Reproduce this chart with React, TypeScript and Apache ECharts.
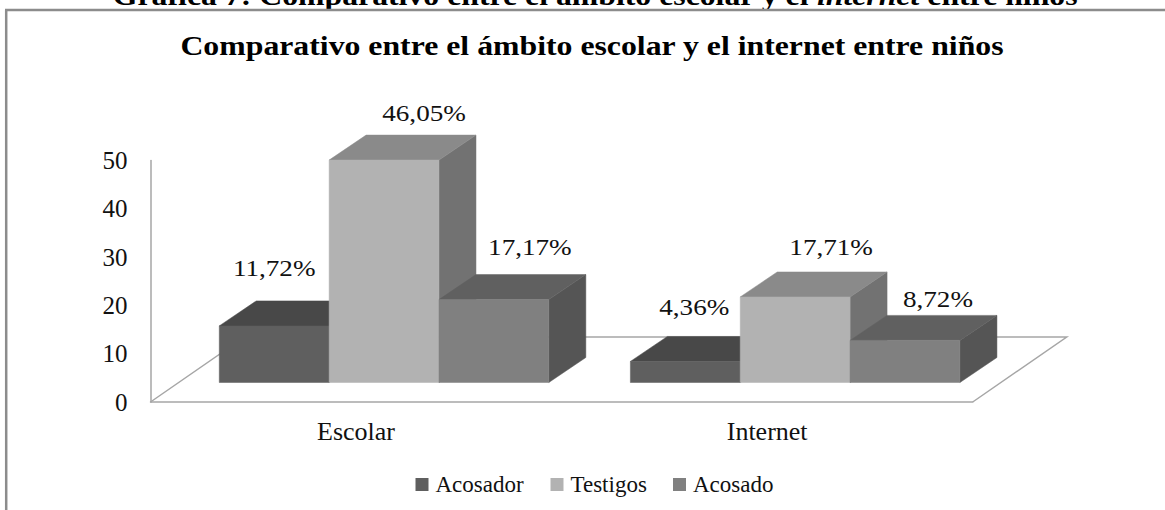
import React, { useEffect, useRef } from "react";
import * as echarts from "echarts";

const categories = ["Escolar", "Internet"];
const seriesNames = ["Acosador", "Testigos", "Acosado"];
const acosador = [11.72, 4.36];
const testigos = [46.05, 17.71];
const acosado = [17.17, 8.72];
const yTicks = { min: 0, max: 50, interval: 10 };
const chartTitle = "Comparativo entre el ámbito escolar y el internet entre niños";
const headingBefore = "Gráfica 7: Comparativo entre el ámbito escolar y el ";
const headingItalic = "internet";
const headingAfter = " entre niños";

const serif = "'Liberation Serif', 'Times New Roman', serif";
const frontColors = ["#5f5f5f", "#b2b2b2", "#808080"];
const topColors = ["#484848", "#8a8a8a", "#606060"];
const sideColors = ["#404040", "#727272", "#555555"];
// label offsets relative to the front-top centre of each bar [series][category]
const labelOffsets = [
  [[0, -58], [9, -54]],
  [[40, -47], [36, -50]],
  [[36, -52], [33, -41]],
];
const FLOOR_DX = 94;
const FLOOR_DY = 65;
const BAR_SHIFT_X = 28;
const BAR_SHIFT_Y = 19.5;
const DEPTH_X = 37;
const DEPTH_Y = 25;

function barRenderer(seriesIdx: number) {
  return (params: any, api: any) => {
    const cat = api.value(0);
    const val = api.value(1);
    const band = api.size([1, 0])[0];
    const w = band * 0.2672;
    const base = api.coord([cat, 0]);
    const top = api.coord([cat, val]);
    const x0 = base[0] + BAR_SHIFT_X + (seriesIdx - 1.5) * w;
    const x1 = x0 + w;
    const yb = base[1] - BAR_SHIFT_Y;
    const yt = top[1] - BAR_SHIFT_Y;
    const off = labelOffsets[seriesIdx][cat];
    const poly = (points: number[][], fill: string) => ({
      type: "polygon",
      shape: { points },
      style: { fill, stroke: fill, lineWidth: 0.5 },
    });
    return {
      type: "group",
      children: [
        poly([[x1, yb], [x1 + DEPTH_X, yb - DEPTH_Y], [x1 + DEPTH_X, yt - DEPTH_Y], [x1, yt]], sideColors[seriesIdx]),
        poly([[x0, yt], [x1, yt], [x1 + DEPTH_X, yt - DEPTH_Y], [x0 + DEPTH_X, yt - DEPTH_Y]], topColors[seriesIdx]),
        poly([[x0, yb], [x1, yb], [x1, yt], [x0, yt]], frontColors[seriesIdx]),
        {
          type: "text",
          x: (x0 + x1) / 2 + off[0],
          y: yt + off[1],
          scaleX: 1.18,
          style: {
            text: val.toFixed(2).replace(".", ",") + "%",
            fontFamily: serif,
            fontSize: 23,
            fill: "#111",
            textAlign: "center",
            textVerticalAlign: "middle",
          },
        },
      ],
    };
  };
}

function floorRenderer(params: any) {
  const c = params.coordSys;
  const yb = c.y + c.height;
  return {
    type: "polyline",
    shape: {
      points: [
        [c.x, yb],
        [c.x + FLOOR_DX, yb - FLOOR_DY],
        [c.x + c.width + FLOOR_DX, yb - FLOOR_DY],
        [c.x + c.width, yb],
      ],
    },
    style: { fill: "none", stroke: "#a6a6a6", lineWidth: 1.5 },
  };
}

export default function App() {
  const ref = useRef<HTMLDivElement>(null);
  useEffect(() => {
    document.body.style.margin = "0";
    const chart = echarts.init(ref.current!, null, { renderer: "svg" });
    const legendAt = [415.5, 550.5, 673];
    chart.setOption({
      animation: false,
      backgroundColor: "#fff",
      textStyle: { fontFamily: serif },
      legend: seriesNames.map((n, i) => ({
        data: [n],
        left: legendAt[i],
        top: 473,
        padding: 0,
        icon: "rect",
        itemWidth: 13,
        itemHeight: 13,
        itemGap: 0,
        textStyle: { fontFamily: serif, fontSize: 23, color: "#111", padding: [0, 0, 0, 2] },
      })),
      grid: { left: 150.5, width: 822.2, top: 160.5, height: 241.5, containLabel: false },
      xAxis: {
        type: "category",
        data: categories,
        axisTick: { show: false },
        axisLine: { lineStyle: { color: "#a6a6a6", width: 1.5 } },
        axisLabel: { fontFamily: serif, fontSize: 26, color: "#111", margin: 16 },
      },
      yAxis: {
        type: "value",
        ...yTicks,
        splitLine: { show: false },
        axisTick: { show: false },
        axisLine: { show: true, lineStyle: { color: "#a6a6a6", width: 1.5 } },
        axisLabel: { fontFamily: serif, fontSize: 25, color: "#111", margin: 23 },
      },
      graphic: [
        {
          type: "text",
          x: 595,
          y: 9,
          scaleX: 1.135,
          style: {
            text: `{b|${headingBefore}}{i|${headingItalic}}{b|${headingAfter}}`,
            textAlign: "center",
            textVerticalAlign: "bottom",
            rich: {
              b: { fontFamily: serif, fontWeight: "bold", fontSize: 28, fill: "#000" },
              i: { fontFamily: serif, fontWeight: "bold", fontStyle: "italic", fontSize: 28, fill: "#000" },
            },
          },
        },
        {
          type: "text",
          x: 592,
          y: 45,
          scaleX: 1.135,
          style: {
            text: chartTitle,
            fontFamily: serif,
            fontWeight: "bold",
            fontSize: 28,
            fill: "#000",
            textAlign: "center",
            textVerticalAlign: "middle",
          },
        },
        { type: "line", silent: true, shape: { x1: 6.2, y1: 10, x2: 6.2, y2: 510 }, style: { stroke: "#8c8c8c", lineWidth: 2.5 } },
        { type: "line", silent: true, shape: { x1: 5, y1: 10, x2: 1165, y2: 10 }, style: { stroke: "#8c8c8c", lineWidth: 2.5 } },
      ],
      series: [
        { type: "custom", name: "floor", silent: true, renderItem: floorRenderer, data: [[0, 0]], encode: { x: 0, y: 1 } },
        ...[acosador, testigos, acosado].map((vals, i) => ({
          type: "custom",
          name: seriesNames[i],
          itemStyle: { color: frontColors[i] },
          renderItem: barRenderer(i),
          data: vals.map((v, c) => [c, v]),
          encode: { x: 0, y: 1 },
        })),
      ],
    });
    return () => chart.dispose();
  }, []);
  return <div ref={ref} style={{ position: "fixed", left: 0, top: 0, width: 1165, height: 510 }} />;
}
